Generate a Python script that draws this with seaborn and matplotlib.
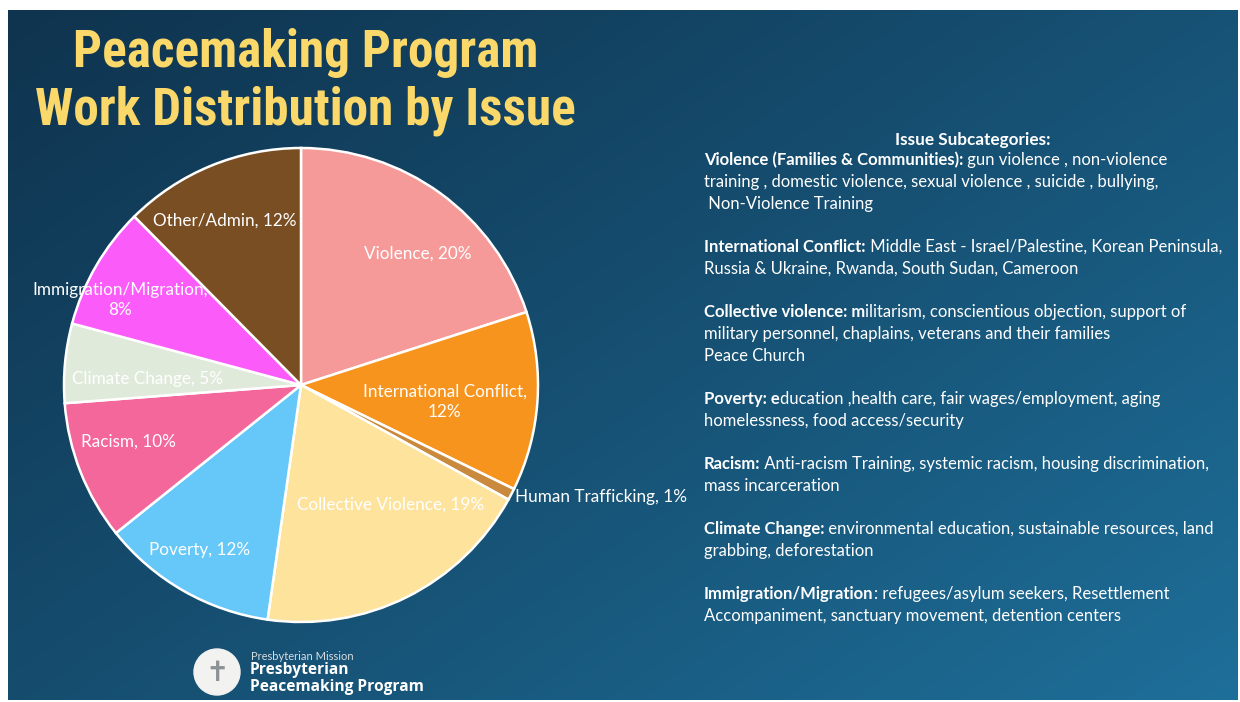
import numpy as np
import matplotlib
matplotlib.use("Agg")
import matplotlib.pyplot as plt
import seaborn as sns
from matplotlib import font_manager
from matplotlib.font_manager import FontProperties
from matplotlib.patches import Circle
from matplotlib.colors import to_rgb

# ---- data ----
issues = ["Violence", "International Conflict", "Human Trafficking", "Collective Violence",
          "Poverty", "Racism", "Climate Change", "Immigration/Migration", "Other/Admin"]
shares = [20.0, 12.2, 0.8, 19.2, 12.0, 9.5, 5.4, 8.4, 12.4]
shown_pct = [20, 12, 1, 19, 12, 10, 5, 8, 12]
slice_colors = ["#F59A98", "#F7941E", "#C98A3E", "#FDE39C", "#66C8F8",
                "#F3679A", "#E0EADA", "#FB5CF9", "#7A4E23"]
wrapped = ["International Conflict", "Immigration/Migration"]

# label placement: (angle shift clockwise in degrees, distance from centre)
label_place = [(5.5, 0.74), (2.6, 0.61), (0, 1.02), (-10.4, 0.63), (1.9, 0.82),
               (3.3, 0.765), (-3.1, 0.65), (-5.0, 0.845), (-2.7, 0.765)]

subcats = [
    ("Violence (Families & Communities):", [" gun violence , non-violence",
      "training , domestic violence, sexual violence , suicide , bullying,",
      " Non-Violence Training"]),
    ("International Conflict:", [" Middle East - Israel/Palestine, Korean Peninsula,",
      "Russia & Ukraine, Rwanda, South Sudan, Cameroon"]),
    ("Collective violence: m", ["ilitarism, conscientious objection, support of",
      "military personnel, chaplains, veterans and their families",
      "Peace Church"]),
    ("Poverty: e", ["ducation ,health care, fair wages/employment, aging",
      "homelessness, food access/security"]),
    ("Racism:", [" Anti-racism Training, systemic racism, housing discrimination,",
      "mass incarceration"]),
    ("Climate Change:", [" environmental education, sustainable resources, land",
      "grabbing, deforestation"]),
    ("Immigration/Migration", [": refugees/asylum seekers, Resettlement",
      "Accompaniment, sanctuary movement, detention centers"]),
]

sns.set_style("white")
installed = {f.name for f in font_manager.fontManager.ttflist}
body = "Lato" if "Lato" in installed else "DejaVu Sans"
plt.rcParams["font.family"] = [body, "DejaVu Sans"]

# a condensed bold face for the title, if one is around
title_fp = None
for key in ["LiberationSansNarrow-Bold.", "RobotoCondensed-Bold.", "DejaVuSansCondensed-Bold.",
            "OpenSans_Condensed-Bold", "OpenSansCondensed-Bold", "Roboto-Bold."]:
    hits = [f.fname for f in font_manager.fontManager.ttflist if key in f.fname.split("/")[-1]]
    if hits:
        title_fp = FontProperties(fname=hits[0])
        break
if title_fp is None:
    title_fp = FontProperties(family="Liberation Sans", weight="bold")

W, H = 1240, 702
fig = plt.figure(figsize=(W / 100, H / 100), dpi=100)
fig.patch.set_facecolor("white")

# gradient slide background
bg = fig.add_axes([8 / W, 2 / H, 1230 / W, 690 / H])
gx, gy = np.meshgrid(np.linspace(0, 1, 400), np.linspace(0, 1, 300))
t = np.clip(0.55 * gx + 0.45 * gy, 0, 1) ** 1.1
c0, c1 = np.array(to_rgb("#0F344F")), np.array(to_rgb("#1E6F9A"))
img = c0[None, None, :] * (1 - t[..., None]) + c1[None, None, :] * t[..., None]
bg.imshow(img, aspect="auto", extent=[0, 1, 1, 0])
bg.set_xlim(0, 1)
bg.set_ylim(1, 0)
bg.axis("off")

# pie
cx, cy, r = 301, 385, 237
ax = fig.add_axes([(cx - r) / W, (H - cy - r) / H, 2 * r / W, 2 * r / H])
palette = sns.color_palette(slice_colors)
wedges, _ = ax.pie(shares, colors=palette, startangle=90, counterclock=False,
                   wedgeprops=dict(edgecolor="white", linewidth=1.8))
for w in wedges:
    w.set_clip_on(False)
ax.set_xlim(-1, 1)
ax.set_ylim(-1, 1)
ax.axis("off")

for w, name, pct, (shift, dist) in zip(wedges, issues, shown_pct, label_place):
    mid = np.deg2rad((w.theta1 + w.theta2) / 2 - shift)
    sep = ",\n" if name in wrapped else ", "
    outside = dist > 1
    ax.text(dist * np.cos(mid), dist * np.sin(mid), f"{name}{sep}{pct}%",
            ha="left" if outside else "center", va="center", color="white",
            fontsize=12.3, linespacing=1.3, clip_on=False)

# overlay for text in pixel coordinates
ov = fig.add_axes([0, 0, 1, 1])
ov.set_xlim(0, W)
ov.set_ylim(H, 0)
ov.axis("off")
ov.patch.set_alpha(0)
renderer = fig.canvas.get_renderer()
inv = ov.transData.inverted()

# title, sized so the second line spans the same width as on the slide
t2 = ov.text(305, 125, "Work Distribution by Issue", fontproperties=title_fp,
             fontsize=36, color="#FAD869", ha="center", va="baseline")
bb = t2.get_window_extent(renderer)
size = 36 * 540 / bb.width
t2.set_fontsize(size)
ov.text(306, 67, "Peacemaking Program", fontproperties=title_fp,
        fontsize=size, color="#FAD869", ha="center", va="baseline")

ov.text(973, 140, "Issue Subcategories:", fontweight="bold", fontsize=12.3,
        color="white", ha="center", va="center")

x0, y = 704, 160
line_h, gap = 22, 43
for bold, lines in subcats:
    tb = ov.text(x0, y, bold, fontweight="bold", fontsize=12, color="white", va="center")
    bb = tb.get_window_extent(renderer)
    x_end = inv.transform((bb.x1, bb.y0))[0]
    ov.text(x_end, y, lines[0], fontsize=12, color="white", va="center")
    for ln in lines[1:]:
        y += line_h
        ov.text(x0, y, ln, fontsize=12, color="white", va="center")
    y += gap

# footer logo
ov.add_patch(Circle((217, 672), 23, color="#F2F2F0", zorder=3))
ov.text(217, 673, "\u271D", family="DejaVu Sans", fontsize=20, color="#8C9196",
        ha="center", va="center", zorder=4)
ov.text(251, 657, "Presbyterian Mission", fontsize=8, color="#D5DCE0", va="center")
ov.text(250, 670, "Presbyterian", family=["Open Sans", "DejaVu Sans"], fontweight="bold",
        fontsize=11.2, color="white", va="center")
ov.text(250, 687, "Peacemaking Program", family=["Open Sans", "DejaVu Sans"], fontweight="bold",
        fontsize=11.2, color="white", va="center")

fig.savefig("out.png", dpi=100)
